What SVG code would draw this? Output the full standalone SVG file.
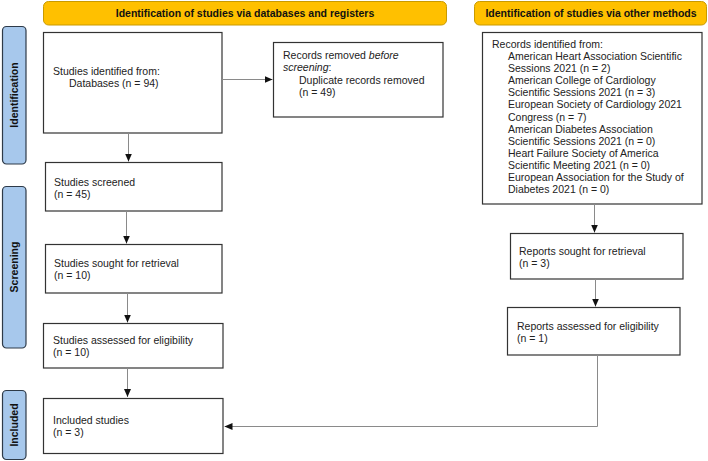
<svg xmlns="http://www.w3.org/2000/svg" width="708" height="461" viewBox="0 0 708 461">
<defs>
<style>
.hdr{fill:#FFC000;stroke:#C99A00;stroke-width:1}
.side{fill:#A7C8EC;stroke:#2E3A48;stroke-width:1.2}
.box{fill:#fff;stroke:#333;stroke-width:1.2}
.t{font-family:"Liberation Sans",Arial,sans-serif;font-size:10.5px;fill:#222}
.b{font-family:"Liberation Sans",Arial,sans-serif;font-size:10.5px;font-weight:bold;fill:#111}
.it{font-style:italic}
.c{fill:none;stroke:#8a8a8a;stroke-width:1}
</style>
<marker id="ah" viewBox="0 0 8 8" refX="8" refY="4" markerWidth="8" markerHeight="8" markerUnits="userSpaceOnUse" orient="auto">
<path d="M0,0.5 L8,4 L0,7.5 Z" fill="#111"/>
</marker>
</defs>
<rect width="708" height="461" fill="#fff"/>

<g id="header-databases">
<rect class="hdr" x="43.5" y="1.5" width="403" height="23.5" rx="5"/>
<text class="b" x="245" y="17" text-anchor="middle">Identification of studies via databases and registers</text>
</g>
<g id="header-other">
<rect class="hdr" x="474.5" y="1.5" width="232" height="23.5" rx="5"/>
<text class="b" x="591" y="17" text-anchor="middle">Identification of studies via other methods</text>
</g>

<g id="label-identification">
<rect class="side" x="2.5" y="26.5" width="23.5" height="137.5" rx="4"/>
<text class="b" transform="translate(18,95) rotate(-90)" text-anchor="middle">Identification</text>
</g>
<g id="label-screening">
<rect class="side" x="2.5" y="186.5" width="23.5" height="161.5" rx="4"/>
<text class="b" transform="translate(18,267) rotate(-90)" text-anchor="middle">Screening</text>
</g>
<g id="label-included">
<rect class="side" x="2.5" y="390.5" width="23.5" height="69" rx="4"/>
<text class="b" transform="translate(18,425) rotate(-90)" text-anchor="middle">Included</text>
</g>

<g id="studies-identified">
<rect class="box" x="43.5" y="32.5" width="178.5" height="100.5"/>
<text class="t" x="53" y="74.5">Studies identified from:</text>
<text class="t" x="69" y="86.5">Databases (n = 94)</text>
</g>
<g id="records-removed">
<rect class="box" x="273.5" y="42.5" width="169.5" height="74.5"/>
<text class="t" x="283" y="59">Records removed <tspan class="it">before</tspan></text>
<text class="t" x="283" y="71"><tspan class="it">screening</tspan>:</text>
<text class="t" x="299" y="83.5">Duplicate records removed</text>
<text class="t" x="299" y="95.5">(n = 49)</text>
</g>
<g id="studies-screened">
<rect class="box" x="45.5" y="162.5" width="176.5" height="48.5"/>
<text class="t" x="54" y="185.5">Studies screened</text>
<text class="t" x="54" y="197.5">(n = 45)</text>
</g>
<g id="studies-sought">
<rect class="box" x="45.5" y="244.5" width="176.5" height="48.5"/>
<text class="t" x="54" y="266.5">Studies sought for retrieval</text>
<text class="t" x="54" y="279">(n = 10)</text>
</g>
<g id="studies-assessed">
<rect class="box" x="43.5" y="323.5" width="179.5" height="44.5"/>
<text class="t" x="53" y="343.5">Studies assessed for eligibility</text>
<text class="t" x="53" y="356">(n = 10)</text>
</g>
<g id="included-studies">
<rect class="box" x="43.5" y="398.5" width="179.5" height="55"/>
<text class="t" x="53" y="423.5">Included studies</text>
<text class="t" x="53" y="436">(n = 3)</text>
</g>

<g id="records-identified">
<rect class="box" x="482.5" y="32.5" width="219.5" height="171.5"/>
<text class="t" x="492" y="48">Records identified from:</text>
<text class="t" x="508" y="60">American Heart Association Scientific</text>
<text class="t" x="508" y="72.2">Sessions 2021 (n = 2)</text>
<text class="t" x="508" y="84.2">American College of Cardiology</text>
<text class="t" x="508" y="96.3">Scientific Sessions 2021 (n = 3)</text>
<text class="t" x="508" y="108.4">European Society of Cardiology 2021</text>
<text class="t" x="508" y="120.5">Congress (n = 7)</text>
<text class="t" x="508" y="132.6">American Diabetes Association</text>
<text class="t" x="508" y="144.6">Scientific Sessions 2021 (n = 0)</text>
<text class="t" x="508" y="156.7">Heart Failure Society of America</text>
<text class="t" x="508" y="168.8">Scientific Meeting 2021 (n = 0)</text>
<text class="t" x="508" y="180.9">European Association for the Study of</text>
<text class="t" x="508" y="193">Diabetes 2021 (n = 0)</text>
</g>
<g id="reports-sought">
<rect class="box" x="510.5" y="233.5" width="172.5" height="45.5"/>
<text class="t" x="519" y="254.5">Reports sought for retrieval</text>
<text class="t" x="519" y="266.5">(n = 3)</text>
</g>
<g id="reports-assessed">
<rect class="box" x="507.5" y="307.5" width="172.5" height="47.5"/>
<text class="t" x="517" y="329.5">Reports assessed for eligibility</text>
<text class="t" x="517" y="341.5">(n = 1)</text>
</g>

<g id="connectors">
<path class="c" d="M222,79.5 H272.5" marker-end="url(#ah)"/>
<path class="c" d="M128.5,133 V161.5" marker-end="url(#ah)"/>
<path class="c" d="M126.5,211 V243.5" marker-end="url(#ah)"/>
<path class="c" d="M127.5,293 V322.5" marker-end="url(#ah)"/>
<path class="c" d="M127.5,368 V397" marker-end="url(#ah)"/>
<path class="c" d="M594.5,204 V232.5" marker-end="url(#ah)"/>
<path class="c" d="M595.5,279 V306.5" marker-end="url(#ah)"/>
<path class="c" d="M597.5,355 V426.5 H224.5" marker-end="url(#ah)"/>
</g>
</svg>
